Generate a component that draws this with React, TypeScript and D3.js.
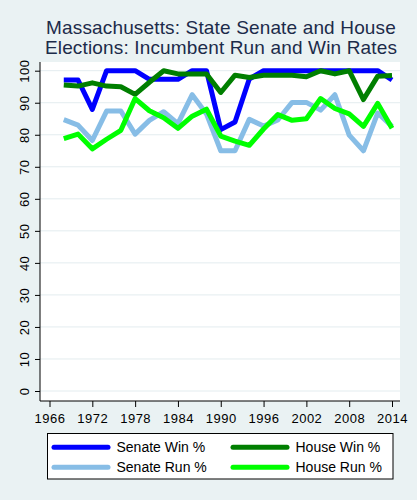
import React, { useEffect, useRef } from "react";
import * as d3 from "d3";

const years = [
  1968, 1970, 1972, 1974, 1976, 1978, 1980, 1982, 1984, 1986, 1988, 1990,
  1992, 1994, 1996, 1998, 2000, 2002, 2004, 2006, 2008, 2010, 2012, 2014,
];
const senateWin = [
  97.1, 97.1, 87.9, 100, 100, 100, 97.3, 97.3, 97.3, 100, 100, 81.6,
  84, 97.4, 100, 100, 100, 100, 100, 100, 100, 100, 100, 97.1,
];
const houseWin = [
  95.5, 95.2, 96.2, 95.2, 95, 92.6, 96.4, 100, 99, 99, 99, 93.2,
  98.6, 97.9, 98.6, 98.6, 98.6, 98.1, 100, 99, 100, 91, 98.3, 98.5,
];
const senateRun = [
  84.7, 83, 78.2, 87.4, 87.4, 80.2, 84.5, 87.2, 83.5, 92.5, 86.5, 75,
  75, 84.8, 82.7, 84.6, 90.1, 90.1, 87.7, 92.5, 79.9, 75, 86.8, 82.6,
];
const houseRun = [
  78.8, 80.2, 75.6, 78.6, 81.4, 91.3, 87.5, 85.3, 82, 85.8, 88, 79.6,
  78, 76.7, 81.8, 86.3, 84.5, 85, 91.3, 88.2, 86.5, 82.6, 89.8, 82,
];
const seriesNames = ["Senate Win %", "House Win %", "Senate Run %", "House Run %"];
const seriesColors = ["#0000ff", "#007f00", "#87bde6", "#00ff00"];
const seriesValues = [senateWin, houseWin, senateRun, houseRun];
const yTicks = [0, 10, 20, 30, 40, 50, 60, 70, 80, 90, 100];
const xTicks = [1966, 1972, 1978, 1984, 1990, 1996, 2002, 2008, 2014];
const titleLines = [
  "Massachusetts: State Senate and House",
  "Elections: Incumbent Run and Win Rates",
];

const W = 417;
const H = 500;
const plot = { left: 40, right: 400, top: 62, bottom: 401 };
const font = "'Liberation Sans', Arial, sans-serif";

const App = () => {
  const ref = useRef(null);

  useEffect(() => {
    const svg = d3.select(ref.current);
    svg.selectAll("*").remove();

    svg.append("rect").attr("width", W).attr("height", H).attr("fill", "#eaf2f3");
    svg
      .append("rect")
      .attr("x", plot.left)
      .attr("y", plot.top)
      .attr("width", plot.right - plot.left)
      .attr("height", plot.bottom - plot.top)
      .attr("fill", "#ffffff");

    const x = d3.scaleLinear().domain([1966, 2014]).range([49.5, 392]);
    const y = d3.scaleLinear().domain([0, 100]).range([391, 70.7]);

    // gridlines
    svg
      .append("g")
      .selectAll("line")
      .data(yTicks)
      .join("line")
      .attr("x1", plot.left)
      .attr("x2", plot.right)
      .attr("y1", (d) => y(d))
      .attr("y2", (d) => y(d))
      .attr("stroke", "#e3ecef")
      .attr("stroke-width", 1);

    // title
    svg
      .append("g")
      .selectAll("text")
      .data(titleLines)
      .join("text")
      .attr("x", 221)
      .attr("y", (d, i) => 33.5 + i * 20)
      .attr("text-anchor", "middle")
      .style("font-family", font)
      .style("font-size", "19px")
      .style("letter-spacing", "0.15px")
      .attr("fill", "#1c2b4a")
      .text((d) => d);

    // series
    const line = d3
      .line<number>()
      .x((d, i) => x(years[i]))
      .y((d) => y(d));
    seriesValues.forEach((vals, k) => {
      svg
        .append("path")
        .datum(vals)
        .attr("d", line)
        .attr("fill", "none")
        .attr("stroke", seriesColors[k])
        .attr("stroke-width", 5)
        .attr("stroke-linejoin", "round");
    });

    // y axis
    const yAxis = svg
      .append("g")
      .attr("transform", `translate(${plot.left},0)`)
      .call(d3.axisLeft(y).tickValues(yTicks).tickSize(5).tickPadding(3).tickSizeOuter(0));
    yAxis.select(".domain").attr("d", `M0,${plot.top}V${plot.bottom}`).attr("stroke", "#000");
    yAxis
      .selectAll(".tick text")
      .attr("transform", "rotate(-90)")
      .attr("x", 0)
      .attr("y", -11)
      .attr("dy", "0")
      .attr("text-anchor", "middle")
      .style("font-family", font)
      .style("font-size", "13px")
      .style("letter-spacing", "0.5px")
      .attr("fill", "#000");

    // x axis
    const xAxis = svg
      .append("g")
      .attr("transform", `translate(0,${plot.bottom})`)
      .call(d3.axisBottom(x).tickValues(xTicks).tickFormat(d3.format("d")).tickSize(6).tickPadding(7));
    xAxis.select(".domain").attr("d", `M${plot.left},0H${plot.right}`).attr("stroke", "#000");
    xAxis
      .selectAll(".tick text")
      .style("font-family", font)
      .style("font-size", "13px")
      .style("letter-spacing", "0.5px")
      .attr("fill", "#000");

    // legend
    const lg = svg.append("g");
    lg.append("rect")
      .attr("x", 47.5)
      .attr("y", 433.5)
      .attr("width", 345.5)
      .attr("height", 45.5)
      .attr("fill", "#ffffff")
      .attr("stroke", "#000")
      .attr("stroke-width", 1);
    const colX = [53, 232];
    const rowY = [447.3, 467.3];
    seriesNames.forEach((name, k) => {
      const cx = colX[k % 2];
      const cy = rowY[Math.floor(k / 2)];
      lg.append("line")
        .attr("x1", cx + 1)
        .attr("x2", cx + 55)
        .attr("y1", cy)
        .attr("y2", cy)
        .attr("stroke", seriesColors[k])
        .attr("stroke-width", 5)
        .attr("stroke-linecap", "round");
      lg.append("text")
        .attr("x", cx + 63.5)
        .attr("y", cy + 4.5)
        .style("font-family", font)
        .style("font-size", "14px")
        .attr("fill", "#000")
        .text(name);
    });
  }, []);

  return (
    <svg
      ref={ref}
      width={W}
      height={H}
      viewBox={`0 0 ${W} ${H}`}
      style={{ position: "absolute", left: 0, top: 0 }}
    ></svg>
  );
};

export default App;
